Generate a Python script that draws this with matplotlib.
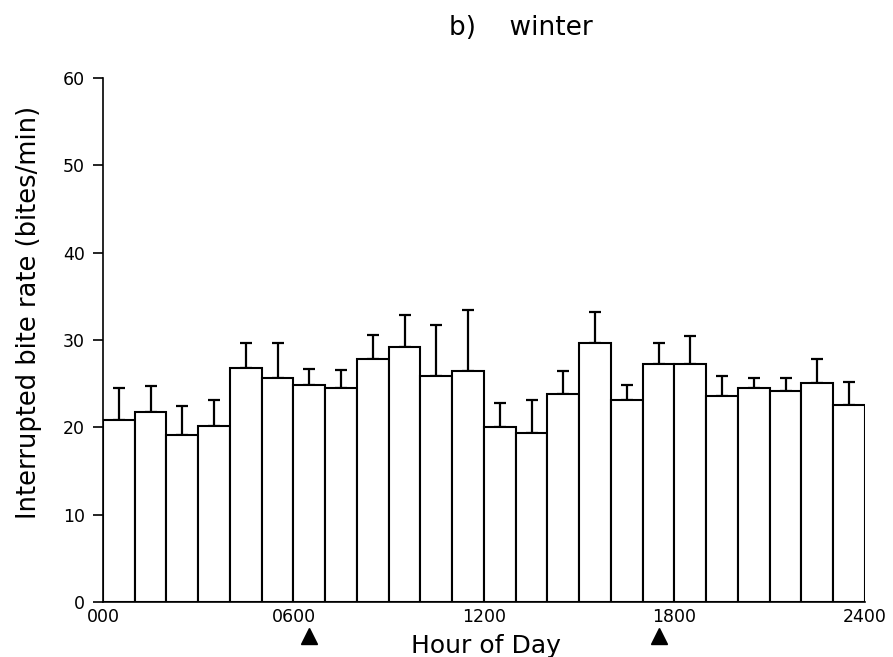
import numpy as np
import matplotlib
matplotlib.use("Agg")
import matplotlib.pyplot as plt

# hourly means and upper SE
hours = np.arange(24)
bite_rate = [20.8, 21.7, 19.1, 20.1, 26.8, 25.7, 24.9, 24.5, 27.8, 29.2, 25.9, 26.5,
             20.0, 19.4, 23.8, 29.6, 23.1, 27.3, 27.3, 23.6, 24.5, 24.2, 25.1, 22.6]
err_top = [24.5, 24.7, 22.5, 23.1, 29.6, 29.6, 26.7, 26.6, 30.6, 32.9, 31.7, 33.4,
           22.8, 23.1, 26.5, 33.2, 24.9, 29.6, 30.5, 25.9, 25.7, 25.6, 27.8, 25.2]
xtick_pos = [0, 600, 1200, 1800, 2400]
xtick_labels = ["000", "0600", "1200", "1800", "2400"]
sun_times = [650, 1750]  # sunrise / sunset arrows

plt.rcParams['font.family'] = ['DejaVu Sans']

fig = plt.figure(figsize=(8.93, 6.57), dpi=100)
ax = fig.add_axes([0.1153, 0.0837, 0.8533, 0.7976])

left = hours * 100
err = np.array(err_top) - np.array(bite_rate)
ax.bar(left, bite_rate, width=100, align='edge', color='white',
       edgecolor='black', linewidth=1.5, zorder=2)
ax.errorbar(left + 50, bite_rate, yerr=[np.zeros(24), err], fmt='none',
            ecolor='black', elinewidth=1.6, capsize=4.3, capthick=1.6, zorder=1)

# arrows under the axis
ax.plot(sun_times, [-3.9, -3.9], linestyle='none', marker='^', markersize=11,
        color='black', clip_on=False)

ax.set_xlim(0, 2400)
ax.set_ylim(0, 60)
ax.set_xticks(xtick_pos)
ax.set_xticklabels(xtick_labels, fontsize=12.5)
ax.tick_params(axis='x', length=0, pad=4)
ax.set_yticks(range(0, 61, 10))
ax.tick_params(axis='y', direction='out', length=7, width=1.2, labelsize=12.5, pad=6)

for s in ['top', 'right']:
    ax.spines[s].set_visible(False)
for s in ['left', 'bottom']:
    ax.spines[s].set_linewidth(1.2)

fig.text(0.544, 0.006, "Hour of Day", fontsize=18, ha='center', va='baseline')
fig.text(0.033, 0.525, "Interrupted bite rate (bites/min)", fontsize=18.5,
         rotation=90, ha='center', va='center')
fig.text(0.583, 0.957, "b)    winter", fontsize=19, ha='center', va='center')

fig.savefig("out.png", dpi=100)
